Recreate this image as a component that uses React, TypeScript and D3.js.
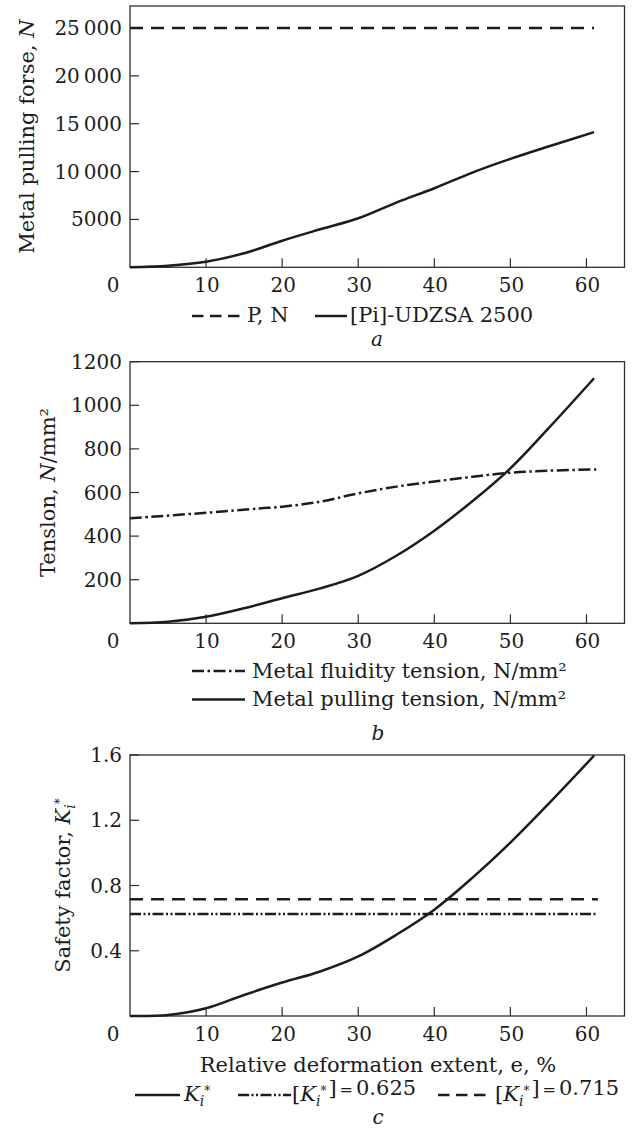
import React from 'react';
import * as d3 from 'd3';

// ---------- data ----------
const xDomain = [0, 65];
const xTicks = [10, 20, 30, 40, 50, 60];

// panel a
const forceX = [0, 5, 10, 15, 20, 25, 30, 35, 40, 45, 50, 55, 61];
const forceN = [0, 170, 590, 1460, 2780, 3970, 5120, 6760, 8260, 9900, 11330, 12620, 14120];
const allowedForceX = [0, 61];
const allowedForceN = [25000, 25000];
const forceDomain = [0, 27300];
const forceTicks = [5000, 10000, 15000, 20000, 25000];
const forceTickLabels = ['5000', '10\u2009000', '15\u2009000', '20\u2009000', '25\u2009000'];

// panel b
const fluidX = [0, 10, 17, 20, 25, 30, 35, 40, 45, 50, 55, 61.3];
const fluidT = [482, 507, 527, 535, 558, 596, 627, 650, 672, 691, 700, 706];
const pullX = [0, 5, 10, 15, 20, 25, 30, 35, 40, 45, 50, 55, 61];
const pullT = [0, 7, 30, 69, 115, 160, 218, 310, 425, 560, 711, 894, 1124];
const tensDomain = [0, 1200];
const tensTicks = [200, 400, 600, 800, 1000, 1200];
const tensTickLabels = ['200', '400', '600', '800', '1000', '1200'];

// panel c
const safetyX = [0, 5, 10, 15, 20, 25, 30, 35, 40, 45, 50, 55, 61];
const safetyK = [0, 0.006, 0.047, 0.129, 0.205, 0.273, 0.365, 0.498, 0.652, 0.847, 1.063, 1.3, 1.596];
const limitX = [0, 61.5];
const limitLow = [0.625, 0.625];
const limitHigh = [0.715, 0.715];
const safetyDomain = [0, 1.6];
const safetyTicks = [0.4, 0.8, 1.2, 1.6];
const safetyTickLabels = ['0.4', '0.8', '1.2', '1.6'];

// ---------- style ----------
const FONT = '"DejaVu Serif", "Liberation Serif", serif';
const INK = '#1c1c1c';
const AXIS = '#2e2e2e';
const TICK_FS = 20;
const FS = 21;
const DASH = '13,8';
const DASH_DOT = '12,3.5,2.5,3.5';
const DASH_DOT_DOT = '11,2.5,2,2.5,2,2.5';
const LW = 2.5;

type Scale = d3.ScaleLinear<number, number>;

function Frame({ x, y, yTicks, yTickLabels }: { x: Scale; y: Scale; yTicks: number[]; yTickLabels: string[] }) {
  const [x0, x1] = x.range();
  const [yb, yt] = y.range();
  return (
    <g>
      <rect x={x0} y={yt} width={x1 - x0} height={yb - yt} fill="none" stroke={AXIS} strokeWidth={1.3} />
      {xTicks.map((t) => (
        <line key={'xt' + t} x1={x(t)} x2={x(t)} y1={yb} y2={yb - 9} stroke={AXIS} strokeWidth={1.2} />
      ))}
      {yTicks.map((t) => (
        <line key={'yt' + t} x1={x0} x2={x0 + 9} y1={y(t)} y2={y(t)} stroke={AXIS} strokeWidth={1.2} />
      ))}
      <text x={x0 - 17} y={yb + 25} textAnchor="middle" fontSize={TICK_FS} fontFamily={FONT} fill={INK}>0</text>
      {xTicks.map((t) => (
        <text key={'xl' + t} x={x(t) + 1} y={yb + 25} textAnchor="middle" fontSize={TICK_FS} fontFamily={FONT} fill={INK}>
          {String(t)}
        </text>
      ))}
      {yTicks.map((t, i) => (
        <text key={'yl' + t} x={x0 - 8} y={y(t) + 7} textAnchor="end" fontSize={TICK_FS} fontFamily={FONT} fill={INK}>
          {yTickLabels[i]}
        </text>
      ))}
    </g>
  );
}

function Ksub() {
  return (
    <>
      <tspan fontStyle="italic">K</tspan>
      <tspan fontStyle="italic" fontSize={14} dy={5}>i</tspan>
      <tspan fontSize={12} dy={-11}>*</tspan>
      <tspan dy={6}>{''}</tspan>
    </>
  );
}

export default function App() {
  const x = d3.scaleLinear().domain(xDomain).range([130, 624.5]);
  const ya = d3.scaleLinear().domain(forceDomain).range([267.3, 6]);
  const yb = d3.scaleLinear().domain(tensDomain).range([623.3, 361.7]);
  const yc = d3.scaleLinear().domain(safetyDomain).range([1016, 755]);

  const path = (xs: number[], ys: number[], y: Scale) =>
    d3
      .line<number>()
      .x((_, i) => x(xs[i]))
      .y((d) => y(d))
      .curve(d3.curveCatmullRom.alpha(0.5))(ys) || '';

  const lineProps = { fill: 'none', stroke: INK, strokeWidth: LW };
  const txt = { fontFamily: FONT, fontSize: FS, fill: INK };

  return (
    <svg
      width={634}
      height={1130}
      viewBox="0 0 634 1130"
      style={{ position: 'absolute', left: 0, top: 0, background: '#fff' }}
    >
      <rect x={0} y={0} width={634} height={1130} fill="#fff" />

      {/* ---------- panel a ---------- */}
      <Frame x={x} y={ya} yTicks={forceTicks} yTickLabels={forceTickLabels} />
      <path d={path(allowedForceX, allowedForceN, ya)} {...lineProps} strokeDasharray={DASH} />
      <path d={path(forceX, forceN, ya)} {...lineProps} />
      <text {...txt} transform={`translate(34,${(267.3 + 6) / 2}) rotate(-90)`} textAnchor="middle">
        Metal pulling forse, <tspan fontStyle="italic">N</tspan>
      </text>
      <line x1={192} x2={240} y1={316} y2={316} {...lineProps} strokeDasharray="11.5,6.5" />
      <text {...txt} x={247} y={322}>P, N</text>
      <line x1={315} x2={347} y1={316} y2={316} {...lineProps} />
      <text {...txt} x={350} y={322}>[Pi]-UDZSA 2500</text>
      <text {...txt} fontSize={20} x={377} y={346} textAnchor="middle" fontStyle="italic">a</text>

      {/* ---------- panel b ---------- */}
      <Frame x={x} y={yb} yTicks={tensTicks} yTickLabels={tensTickLabels} />
      <path d={path(fluidX, fluidT, yb)} {...lineProps} strokeDasharray={DASH_DOT} />
      <path d={path(pullX, pullT, yb)} {...lineProps} />
      <text {...txt} transform={`translate(55,${(623.3 + 361.7) / 2}) rotate(-90)`} textAnchor="middle">
        Tenslon, <tspan fontStyle="italic">N</tspan>/mm²
      </text>
      <line x1={192} x2={245} y1={671} y2={671} {...lineProps} strokeDasharray={DASH_DOT} />
      <text {...txt} x={252} y={678}>Metal fluidity tension, N/mm²</text>
      <line x1={192} x2={245} y1={699.5} y2={699.5} {...lineProps} />
      <text {...txt} x={252} y={706}>Metal pulling tension, N/mm²</text>
      <text {...txt} fontSize={20} x={378} y={740} textAnchor="middle" fontStyle="italic">b</text>

      {/* ---------- panel c ---------- */}
      <Frame x={x} y={yc} yTicks={safetyTicks} yTickLabels={safetyTickLabels} />
      <path d={path(limitX, limitHigh, yc)} {...lineProps} strokeDasharray={DASH} />
      <path d={path(limitX, limitLow, yc)} {...lineProps} strokeDasharray={DASH_DOT_DOT} />
      <path d={path(safetyX, safetyK, yc)} {...lineProps} />
      <text {...txt} transform={`translate(70,${(1016 + 755) / 2}) rotate(-90)`} textAnchor="middle">
        Safety factor, <Ksub />
      </text>
      <text {...txt} x={378} y={1072} textAnchor="middle">Relative deformation extent, e, %</text>

      <line x1={135} x2={180} y1={1095} y2={1095} {...lineProps} />
      <text {...txt} x={184} y={1101}><Ksub /></text>
      <line x1={238} x2={291} y1={1095} y2={1095} {...lineProps} strokeDasharray={DASH_DOT_DOT} />
      <text {...txt} x={292} y={1101}>
        [<tspan dx={3}>{''}</tspan><Ksub /><tspan dx={2}>]</tspan>
        <tspan fontSize={16} dx={3}>=</tspan>
        <tspan dx={3}>0.625</tspan>
      </text>
      <line x1={438} x2={491} y1={1095} y2={1095} {...lineProps} strokeDasharray="11.5,6.5" />
      <text {...txt} x={495} y={1101}>
        [<tspan dx={3}>{''}</tspan><Ksub /><tspan dx={2}>]</tspan>
        <tspan fontSize={16} dx={3}>=</tspan>
        <tspan dx={3}>0.715</tspan>
      </text>
      <text {...txt} fontSize={20} x={378} y={1124} textAnchor="middle" fontStyle="italic">c</text>
    </svg>
  );
}
